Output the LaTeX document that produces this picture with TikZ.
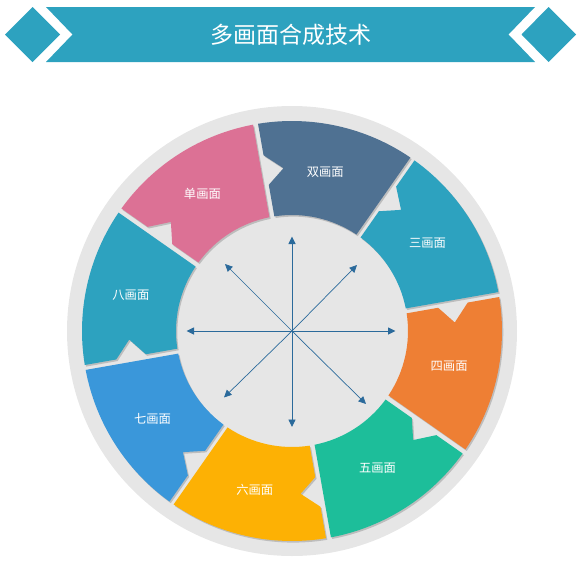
\documentclass[tikz,border=0pt]{standalone}
\usepackage{fontspec}
\newfontfamily\cjk{Noto Sans CJK SC}
\usetikzlibrary{arrows.meta}
\definecolor{hdr}{HTML}{2DA2BF}
\definecolor{ringc}{HTML}{E6E6E6}
\definecolor{shadowc}{HTML}{BDBDBD}
\definecolor{arrowc}{HTML}{2B6A9B}
\definecolor{cpink}{HTML}{DC7195}
\definecolor{cslate}{HTML}{4F7192}
\definecolor{cteal}{HTML}{2DA2BF}
\definecolor{corange}{HTML}{EE7F34}
\definecolor{cgreen}{HTML}{1DBE9A}
\definecolor{cyellow}{HTML}{FDB104}
\definecolor{cblue}{HTML}{3A97DA}
\newcommand\segpath[1]{(#1-0.682:210pt) arc[start angle=#1-0.682, end angle=#1-44.318, radius=210pt] -- (#1-43.765:116pt) arc[start angle=#1-43.765, end angle=#1-1.235, radius=116pt] -- (#1-0.968:148pt) -- (#1-7:163pt) -- (#1-0.805:178pt) -- cycle}
\begin{document}
\begin{tikzpicture}[
  seglabel/.style={text=white, font=\cjk\fontsize{12.3}{14}\selectfont, inner sep=0pt},
  titlelabel/.style={text=white, font=\cjk\fontsize{23}{26}\selectfont, inner sep=0pt},
  ray/.style={draw=arrowc, line width=0.9pt, -{Triangle[length=7.5pt,width=7pt]}},
  banner/.style={fill=hdr},
]
\useasboundingbox (0pt,0pt) rectangle (581pt,-562pt);
% header
\fill[banner] (5pt,-34.5pt) -- (32.5pt,-7pt) -- (60pt,-34.5pt) -- (32.5pt,-62pt) -- cycle;
\fill[banner] (521.5pt,-34.5pt) -- (548.5pt,-7pt) -- (576pt,-34.5pt) -- (548.5pt,-62pt) -- cycle;
\fill[banner] (46pt,-7pt) -- (535pt,-7pt) -- (508.5pt,-34.5pt) -- (535pt,-62pt) -- (46pt,-62pt) -- (72.5pt,-34.5pt) -- cycle;
\node[titlelabel] (title) at (290.5pt,-34.5pt) {多画面合成技术};
% wheel
\coordinate (O) at (292pt,-331pt);
\fill[ringc] (O) circle[radius=225pt];
\begin{scope}[shift={(292pt,-331pt)}]
\foreach \a/\c/\t/\n in {145/cpink/单画面/s1, 100/cslate/双画面/s2, 55/cteal/三画面/s3, 10/corange/四画面/s4, -35/cgreen/五画面/s5, -80/cyellow/六画面/s6, -125/cblue/七画面/s7, -170/cteal/八画面/s8}{
  \fill[shadowc, shift={(1.3pt,-1.6pt)}] \segpath{\a};
  \fill[\c] \segpath{\a};
  \node[seglabel, xshift=-2pt] (\n) at (\a-22.5:163pt) {\t};
}
\end{scope}
% arrows
\coordinate (tN) at (292pt,-236.5pt);
\coordinate (tS) at (292pt,-427pt);
\coordinate (tW) at (186.5pt,-331pt);
\coordinate (tE) at (395.5pt,-331pt);
\coordinate (tNW) at (225pt,-264pt);
\coordinate (tNE) at (357pt,-265pt);
\coordinate (tSW) at (224pt,-397.5pt);
\coordinate (tSE) at (366pt,-404pt);
\foreach \p in {tN,tS,tW,tE}{\draw[ray] (O) -- (\p);}
\foreach \p in {tNW,tNE,tSW,tSE}{\draw[ray, line width=0.7pt] (O) -- (\p);}
\end{tikzpicture}
\end{document}
